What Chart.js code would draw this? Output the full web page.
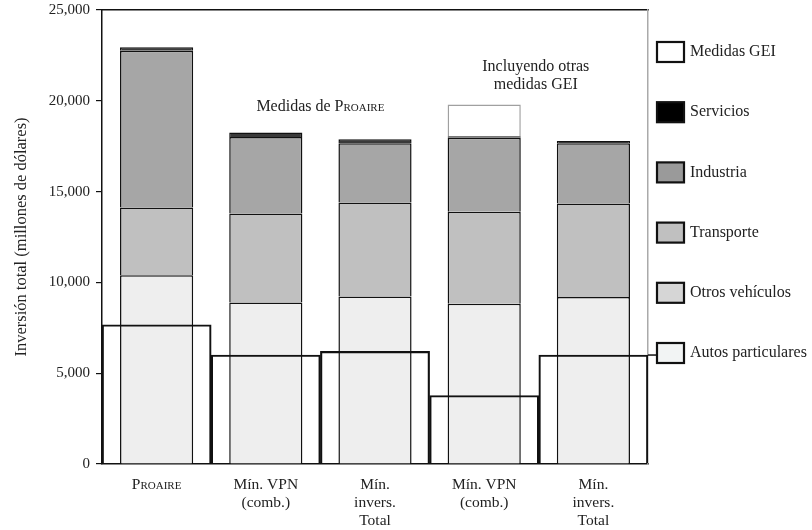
<!DOCTYPE html>
<html>
<head>
<meta charset="utf-8">
<script src="https://cdn.jsdelivr.net/npm/chart.js@4.4.1/dist/chart.umd.min.js"></script>
<style>
  html, body { margin: 0; padding: 0; background: #fff; }
  #wrap { width: 812px; height: 530px; }
</style>
</head>
<body>
<div id="wrap"><canvas id="investChart" width="812" height="530"></canvas></div>
<script>
// Escenarios (eje x)
const scenarios = [
  'Proaire',
  ['Mín. VPN', '(comb.)'],
  ['Mín.', 'invers.', 'Total'],
  ['Mín. VPN', '(comb.)'],
  ['Mín.', 'invers.', 'Total']
];

// Segmentos apilados, millones de dólares
const otrosVehiculos = [10400, 8900, 9230, 8830, 9200];
const transporte     = [3730, 4900, 5170, 5060, 5150];
const industria      = [8620, 4200, 3260, 4080, 3310];
const servicios      = [200, 250, 220, 80, 130];
const medidasGEI     = [0, 0, 0, 1750, 0];

// Autos particulares (escalones anchos)
const autosParticulares = [7670, 6000, 6200, 3770, 6000];

const yTicks = [0, 5000, 10000, 15000, 20000, 25000];

const legendLabels = ['Medidas GEI', 'Servicios', 'Industria', 'Transporte', 'Otros vehículos', 'Autos particulares'];
const legendColors = ['#ffffff', '#000000', '#9a9a9a', '#c0c0c0', '#d6d6d6', '#f2f4f4'];

const serif = '"Liberation Serif", "DejaVu Serif", serif';
const textColor = '#222';

// legend + text notes drawn on the canvas
const overlayText = {
  id: 'overlayText',
  afterDraw(chart) {
    const { ctx, chartArea, scales } = chart;
    const x = scales.x, y = scales.y;
    ctx.save();
    ctx.fillStyle = textColor;
    ctx.textBaseline = 'middle';

    // "Medidas de Proaire"
    const cx1 = (x.getPixelForValue(1) + x.getPixelForValue(2)) / 2;
    const y1 = y.getPixelForValue(19650);
    ctx.font = '16px ' + serif;
    const a = 'Medidas de ';
    const wa = ctx.measureText(a).width;
    ctx.font = 'small-caps 16px ' + serif;
    const wb = ctx.measureText('Proaire').width;
    let sx = cx1 - (wa + wb) / 2;
    ctx.textAlign = 'left';
    ctx.font = '16px ' + serif;
    ctx.fillText(a, sx, y1);
    ctx.font = 'small-caps 16px ' + serif;
    ctx.fillText('Proaire', sx + wa, y1);

    // "Incluyendo otras medidas GEI"
    const cx2 = (x.getPixelForValue(3) + x.getPixelForValue(4)) / 2 - 3;
    const y2 = y.getPixelForValue(21880);
    ctx.font = '16px ' + serif;
    ctx.textAlign = 'center';
    ctx.fillText('Incluyendo otras', cx2, y2);
    ctx.fillText('medidas GEI', cx2, y2 + 18);

    // step line runs out to the last legend box
    const yl = y.getPixelForValue(autosParticulares[autosParticulares.length - 1]);
    ctx.strokeStyle = '#111';
    ctx.lineWidth = 1.5;
    ctx.beginPath();
    ctx.moveTo(chartArea.right, yl);
    ctx.lineTo(657, yl);
    ctx.stroke();

    // legend
    ctx.textAlign = 'left';
    ctx.font = '16px ' + serif;
    legendLabels.forEach((lab, i) => {
      const top = 42 + i * 60.2;
      ctx.fillStyle = legendColors[i];
      ctx.fillRect(657, top, 27, 20);
      ctx.strokeStyle = '#111';
      ctx.lineWidth = 2.2;
      ctx.strokeRect(657, top, 27, 20);
      ctx.fillStyle = textColor;
      ctx.fillText(lab, 690, top + 10);
    });
    ctx.restore();
  }
};

const narrow = { xAxisID: 'x', stack: 'sectores', grouped: false, barPercentage: 0.67, categoryPercentage: 1, borderColor: '#111', borderWidth: 1.5, borderSkipped: 'bottom', order: 1 };

const ctx = document.getElementById('investChart').getContext('2d');
new Chart(ctx, {
  type: 'bar',
  data: {
    labels: scenarios,
    datasets: [
      {
        label: 'Autos particulares',
        data: autosParticulares,
        xAxisID: 'x2',
        stack: 'autos',
        grouped: false,
        backgroundColor: 'rgba(0,0,0,0)',
        borderColor: '#111',
        borderWidth: 1.5,
        borderSkipped: 'bottom',
        barPercentage: 1,
        categoryPercentage: 1,
        order: 0
      },
      Object.assign({ label: 'Otros vehículos', data: otrosVehiculos, backgroundColor: '#eeeeee' }, narrow),
      Object.assign({ label: 'Transporte', data: transporte, backgroundColor: '#c0c0c0' }, narrow),
      Object.assign({ label: 'Industria', data: industria, backgroundColor: '#a6a6a6' }, narrow),
      Object.assign({ label: 'Servicios', data: servicios, backgroundColor: '#3a3a3a' }, narrow),
      Object.assign({ label: 'Medidas GEI', data: medidasGEI, backgroundColor: '#ffffff' }, narrow, { borderColor: '#a0a0a0' })
    ]
  },
  options: {
    responsive: false,
    animation: false,
    devicePixelRatio: 1,
    layout: { padding: { top: 10, right: 164, left: 0, bottom: 0 } },
    plugins: {
      legend: { display: false },
      tooltip: { enabled: false }
    },
    scales: {
      x: {
        type: 'category',
        offset: true,
        grid: { display: false },
        border: { color: '#111', width: 1.5 },
        ticks: {
          color: textColor,
          padding: 4,
          maxRotation: 0,
          autoSkip: false,
          font: (c) => ({ family: serif, size: 15.5, lineHeight: 1.16, weight: c.index === 0 ? 'small-caps' : 'normal' })
        },
        afterFit: (s) => { s.height = 66; s.paddingLeft = 0; s.paddingRight = 0; }
      },
      x2: {
        type: 'category',
        position: 'top',
        offset: true,
        grid: { display: false },
        border: { color: '#111', width: 1.5 },
        ticks: { display: false },
        afterFit: (s) => { s.height = 0; }
      },
      y: {
        stacked: true,
        min: 0,
        max: 25000,
        afterBuildTicks: (s) => { s.ticks = yTicks.map(v => ({ value: v })); },
        grid: { drawOnChartArea: false, drawTicks: true, tickLength: 6, color: '#111', lineWidth: 1.2 },
        border: { color: '#111', width: 1.5 },
        ticks: {
          color: textColor,
          padding: 6,
          font: { family: serif, size: 15 },
          callback: (v) => Number(v).toLocaleString('en-US')
        },
        title: {
          display: true,
          text: 'Inversión total (millones de dólares)',
          color: textColor,
          font: { family: serif, size: 16.5 },
          padding: { top: 12, bottom: 0 }
        },
        afterFit: (s) => { s.width = 102; s.paddingTop = 0; s.paddingBottom = 0; }
      },
      y2: {
        position: 'right',
        min: 0,
        max: 25000,
        grid: { display: false },
        border: { color: '#aaaaaa', width: 1.5 },
        ticks: { display: false },
        afterFit: (s) => { s.width = 0; s.paddingTop = 0; s.paddingBottom = 0; }
      }
    }
  },
  plugins: [overlayText]
});
</script>
</body>
</html>
